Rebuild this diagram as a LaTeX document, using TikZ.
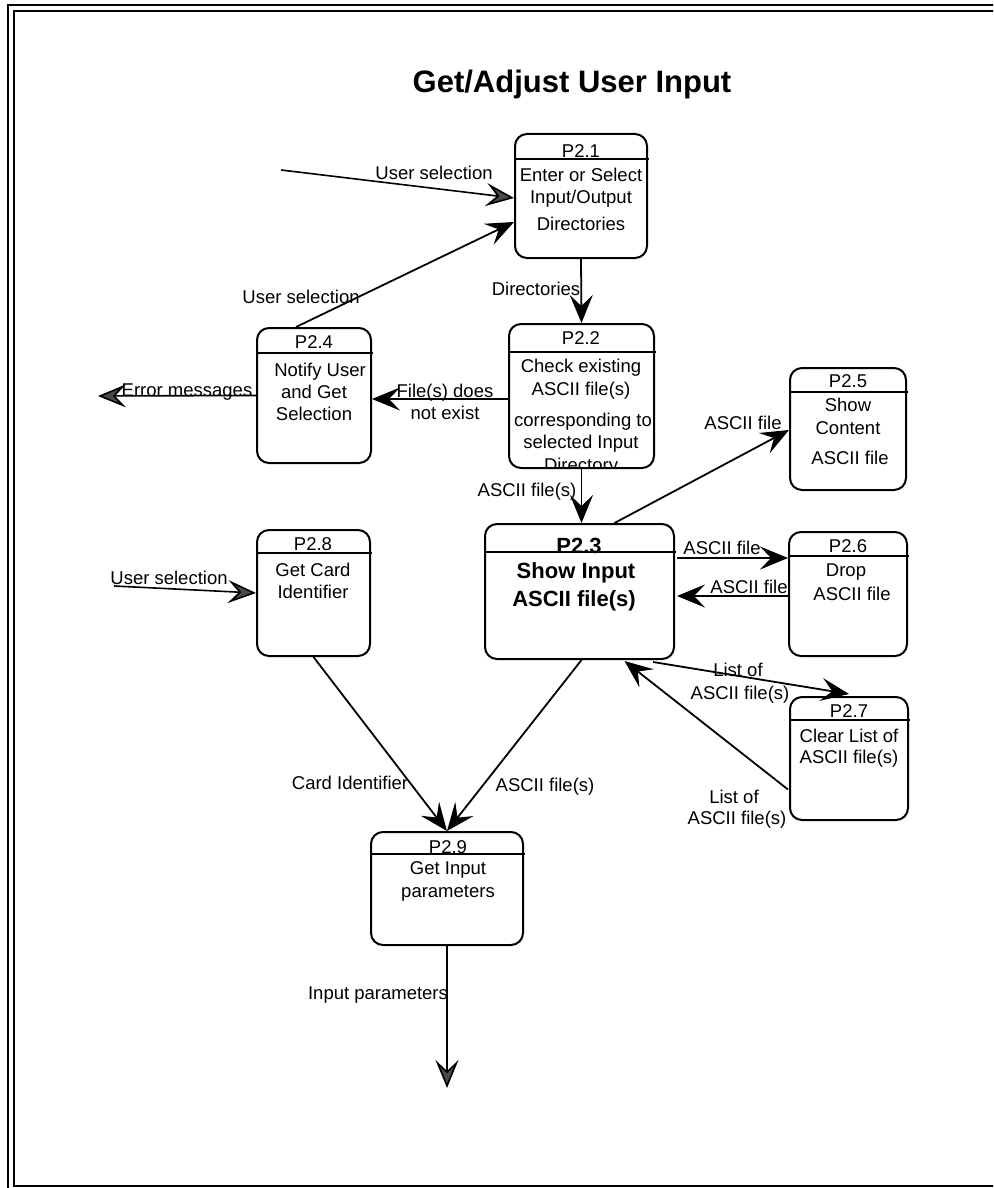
\documentclass[tikz,border=0pt]{standalone}
\usepackage{fontspec}
\setmainfont{Liberation Sans}
\usetikzlibrary{arrows.meta,calc}

\definecolor{tipgray}{HTML}{4A4A4A}

\begin{document}
\begin{tikzpicture}[x=1pt,y=-1pt,
  proc/.style={draw, line width=2pt, rounded corners=12pt, inner sep=0pt},
  hdr/.style={line width=1.8pt},
  txt/.style={inner sep=0pt, anchor=base, yshift=-6.5pt, font=\fontsize{18.5}{21}\selectfont},
  btxt/.style={inner sep=0pt, anchor=base, yshift=-8pt, font=\fontsize{22}{25}\selectfont\bfseries},
  flow/.style={line width=1.8pt, -{Stealth[length=28pt 0 0,width=23pt 0 0,inset=11pt 0 0,line width=2pt]}},
  gflow/.style={line width=1.6pt, -{Stealth[length=28pt 0 0,width=23pt 0 0,inset=11pt 0 0,line width=1.6pt,fill=tipgray]}},
]
\useasboundingbox (0,0) rectangle (993,1188);
\clip (0,0) rectangle (993,1188);

% double frame
\draw[line width=2pt] (8,5) rectangle (1040,1200);
\draw[line width=2pt] (14,11) rectangle (1030,1186);

% title
\node[inner sep=0pt, anchor=base, yshift=-11pt, font=\fontsize{31}{35}\selectfont\bfseries] (title) at (572,82) {Get/Adjust User Input};

% process boxes
\node[proc, minimum width=132pt, minimum height=124pt] (p21) at (581,196) {};
\node[proc, minimum width=145pt, minimum height=144pt] (p22) at (581.5,396) {};
\node[proc, minimum width=114pt, minimum height=135pt] (p24) at (314,395.5) {};
\node[proc, minimum width=116pt, minimum height=122pt] (p25) at (848,429) {};
\node[proc, minimum width=189pt, minimum height=135pt] (p23) at (579.5,591.5) {};
\node[proc, minimum width=118pt, minimum height=124pt] (p26) at (848,594) {};
\node[proc, minimum width=118pt, minimum height=123pt] (p27) at (849,758.5) {};
\node[proc, minimum width=113pt, minimum height=126pt] (p28) at (313.5,593) {};
\node[proc, minimum width=152pt, minimum height=113pt] (p29) at (447,888.5) {};

% header rules
\draw[hdr] (515,159) -- (649,159);
\draw[hdr] (509,352) -- (656,352);
\draw[hdr] (257,353) -- (373,353);
\draw[hdr] (790,392) -- (908,392);
\draw[hdr] (485,552) -- (676,552);
\draw[hdr] (789,556) -- (909,556);
\draw[hdr] (790,720) -- (910,720);
\draw[hdr] (257,553) -- (372,553);
\draw[hdr] (371,854) -- (525,854);

% box texts
\node[txt] (t21a) at (581,151) {P2.1};
\node[txt] (t21b) at (581,175) {Enter or Select};
\node[txt] (t21c) at (581,197) {Input/Output};
\node[txt] (t21d) at (581,224) {Directories};

\node[txt] (t22a) at (581,338) {P2.2};
\node[txt] (t22b) at (581,366) {Check existing};
\node[txt] (t22c) at (581,389) {ASCII file(s)};
\node[txt] (t22d) at (583,420) {corresponding to};
\node[txt] (t22e) at (581,442) {selected Input};
\begin{scope}
  \clip (509,324) rectangle (654,467);
  \node[txt] (t22f) at (581,465) {Directory};
\end{scope}

\node[txt] (t24a) at (314,342) {P2.4};
\node[txt] (t24b) at (320,370) {Notify User};
\node[txt] (t24c) at (314,392) {and Get};
\node[txt] (t24d) at (314,414) {Selection};

\node[txt] (t25a) at (848,381) {P2.5};
\node[txt] (t25b) at (848,405) {Show};
\node[txt] (t25c) at (848,428) {Content};
\node[txt] (t25d) at (850,458) {ASCII file};

\node[btxt] (t23a) at (579,545) {P2.3};
\node[btxt] (t23b) at (576,570) {Show Input};
\node[btxt] (t23c) at (574,598) {ASCII file(s)};

\node[txt] (t26a) at (848,546) {P2.6};
\node[txt] (t26b) at (846,570) {Drop};
\node[txt] (t26c) at (852,594) {ASCII file};

\node[txt] (t27a) at (849,711) {P2.7};
\node[txt] (t27b) at (849,736) {Clear List of};
\node[txt] (t27c) at (849,757) {ASCII file(s)};

\node[txt] (t28a) at (313,544) {P2.8};
\node[txt] (t28b) at (313,570) {Get Card};
\node[txt] (t28c) at (313,592) {Identifier};

\node[txt] (t29a) at (448,847) {P2.9};
\node[txt] (t29b) at (448,868) {Get Input};
\node[txt] (t29c) at (448,891) {parameters};

% free ends of the outer flows
\coordinate (in1) at (281,170);
\coordinate (in2) at (114,586);
\coordinate (err) at (98,396);
\coordinate (out) at (447,1088);

% flows
\draw[gflow] (in1) -- ($(p21.west)+(0,2)$);
\draw[flow] ($(p24.north)+(-18,0)$) -- ($(p21.west)+(0,26)$);
\draw[flow] (p21.south) -- (p22.north);
\draw[flow] ($(p22.west)+(0,3)$) -- ($(p24.east)+(0,3.5)$);
\draw[gflow] (p24.west) -- (err);
\draw[flow] (p22.south) -- (p22.south |- p23.north);
\draw[flow] ($(p23.north)+(35,0)$) -- ($(p25.west)+(0,1)$);
\draw[flow] ($(p23.east)+(2,-33.5)$) -- ($(p26.west)+(0,-36)$);
\draw[flow] ($(p26.west)+(0,2)$) -- ($(p23.east)+(2,4.5)$);
\draw[flow] ($(p23.south east)+(-22,2)$) -- ($(p27.north)+(0,-2)$);
\draw[flow] ($(p27.west)+(-1,31)$) -- ($(p23.south)+(45,1)$);
\draw[gflow] (in2) -- (p28.west);
\draw[flow] (p28.south) -- (p29.north);
\draw[flow] ($(p23.south)+(2,0)$) -- (p29.north);
\draw[gflow] (p29.south) -- (out);

% flow labels
\node[txt] (l1) at (434,173) {User selection};
\node[txt] (l2) at (301,297) {User selection};
\node[txt] (l3) at (536,289) {Directories};
\node[txt] (l4) at (187,390) {Error messages};
\node[txt] (l5a) at (445,391) {File(s) does};
\node[txt] (l5b) at (445,413) {not exist};
\node[txt] (l6) at (527,490) {ASCII file(s)};
\node[txt] (l7) at (743,423) {ASCII file};
\node[txt] (l8) at (722,548) {ASCII file};
\node[txt] (l9) at (749,587) {ASCII file};
\node[txt] (l10a) at (738,670) {List of};
\node[txt] (l10b) at (740,693) {ASCII file(s)};
\node[txt] (l11a) at (734,797) {List of};
\node[txt] (l11b) at (737,818) {ASCII file(s)};
\node[txt] (l12) at (169,578) {User selection};
\node[txt] (l13) at (350,783) {Card Identifier};
\node[txt] (l14) at (545,785) {ASCII file(s)};
\node[txt] (l15) at (378,993) {Input parameters};
\end{tikzpicture}
\end{document}
